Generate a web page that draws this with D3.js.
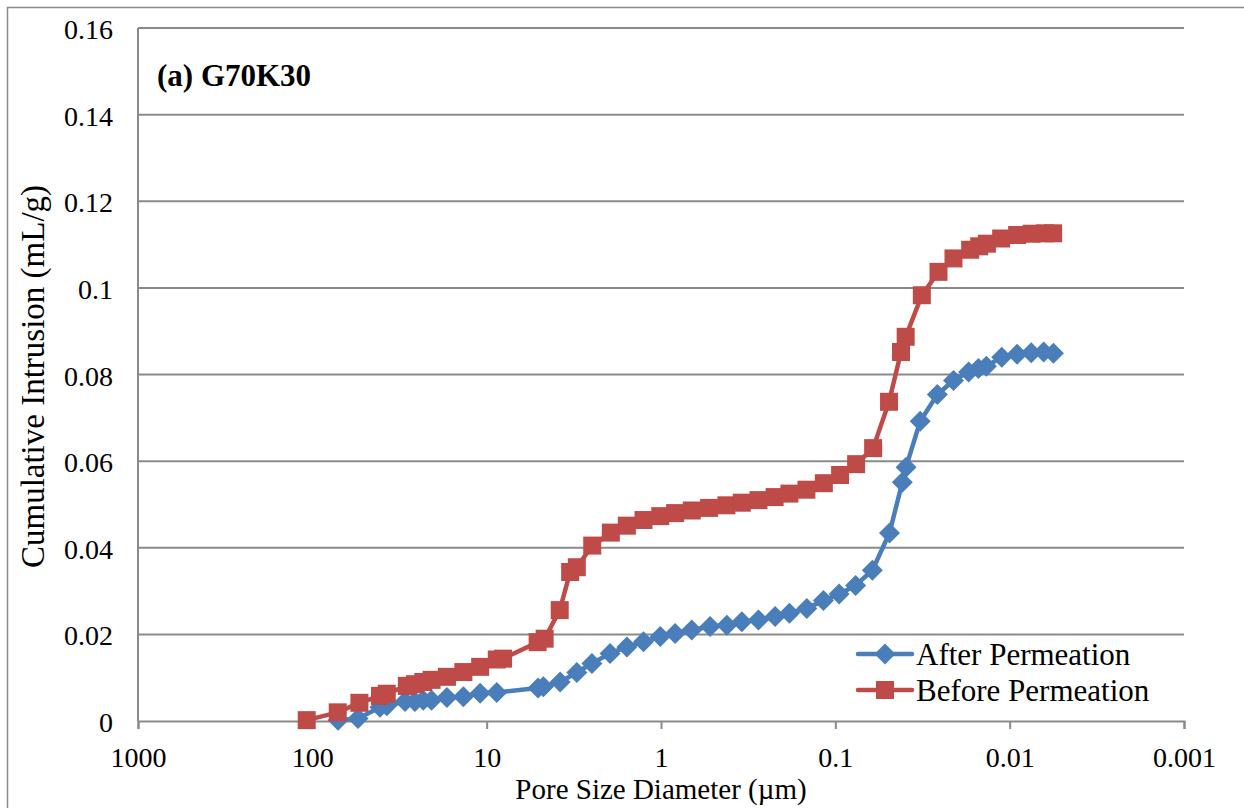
<!DOCTYPE html>
<html>
<head>
<meta charset="utf-8">
<script src="https://cdn.jsdelivr.net/npm/d3@7/dist/d3.min.js"></script>
<style>
  body { margin: 0; background: #fff; }
  svg text { font-family: 'Liberation Serif', 'Times New Roman', serif; }
</style>
</head>
<body>
<div id="vis"></div>
<script>
// pore diameter (um) and cumulative intrusion (mL/g)
var afterDiam = [71.2, 54.7, 40.9, 37.4, 29.4, 25.8, 23.1, 20.7, 16.9, 13.6, 10.9, 8.75,
  5.07, 4.73, 3.79, 3.04, 2.49, 1.96, 1.57, 1.26, 1.01, 0.83, 0.666, 0.523, 0.419,
  0.344, 0.276, 0.2215, 0.1834, 0.1457, 0.117, 0.0951, 0.0765, 0.0613, 0.0489,
  0.0413, 0.0393, 0.0326, 0.026, 0.021, 0.0172, 0.0151, 0.0136, 0.0111, 0.00906,
  0.00752, 0.00638, 0.00561];
var afterVol = [0.0002, 0.0006, 0.0032, 0.0035, 0.0045, 0.0045, 0.0048, 0.0048, 0.0054,
  0.0056, 0.0064, 0.0066, 0.0076, 0.0079, 0.009, 0.0112, 0.0133, 0.0156, 0.0171,
  0.0183, 0.0195, 0.0202, 0.021, 0.0218, 0.0221, 0.0229, 0.0233, 0.0241, 0.0249,
  0.026, 0.0278, 0.0293, 0.0313, 0.0348, 0.0434, 0.0551, 0.0586, 0.0692, 0.0754,
  0.0786, 0.0806, 0.0814, 0.0819, 0.084, 0.0847, 0.085, 0.0852, 0.0849];

var beforeDiam = [107.7, 71.5, 53.7, 40.9, 37.4, 28.7, 25.8, 23.1, 20.7, 16.9, 13.6, 10.9,
  8.75, 8.05, 5.1, 4.65, 3.81, 3.32, 3.04, 2.48, 1.94, 1.57, 1.26, 1.01, 0.83, 0.666,
  0.53, 0.4215, 0.344, 0.276, 0.223, 0.1834, 0.1465, 0.1164, 0.0939, 0.076, 0.0607,
  0.0492, 0.042, 0.0395, 0.0319, 0.0256, 0.021, 0.01685, 0.01496, 0.01351, 0.01119,
  0.00906, 0.00748, 0.00626, 0.00563];
var beforeVol = [0.0002, 0.002, 0.0042, 0.0058, 0.0063, 0.0081, 0.0085, 0.009, 0.0095,
  0.0102, 0.0113, 0.0125, 0.0142, 0.0144, 0.0182, 0.019, 0.0256, 0.0344, 0.0355,
  0.0405, 0.0435, 0.0451, 0.0464, 0.0473, 0.048, 0.0486, 0.0492, 0.0498, 0.0504,
  0.051, 0.0517, 0.0525, 0.0534, 0.0549, 0.0568, 0.0593, 0.063, 0.0737, 0.0852,
  0.0887, 0.0983, 0.1037, 0.1068, 0.1088, 0.1096, 0.1102, 0.1114, 0.1122, 0.1125,
  0.1126, 0.1126];

var xTicks = [1000, 100, 10, 1, 0.1, 0.01, 0.001];
var xTickLabels = ["1000", "100", "10", "1", "0.1", "0.01", "0.001"];
var yTicks = [0, 0.02, 0.04, 0.06, 0.08, 0.1, 0.12, 0.14, 0.16];
var yTickLabels = ["0", "0.02", "0.04", "0.06", "0.08", "0.1", "0.12", "0.14", "0.16"];
var seriesNames = ["After Permeation", "Before Permeation"];

var width = 1244, height = 808;
var margin = { top: 28, left: 138, right: 60, bottom: 87 };
var blue = "#4a7ebb", red = "#be4b48", gridColor = "#8a8a8a";
var serif = "'Liberation Serif', 'Times New Roman', serif";

var svg = d3.select("#vis").append("svg")
  .attr("width", width)
  .attr("height", height);

// outer chart border
svg.append("path")
  .attr("d", "M7.5," + height + "V7.5H" + width)
  .attr("fill", "none")
  .attr("stroke", gridColor)
  .attr("stroke-width", 1.5);

var x = d3.scaleLog()
  .domain([1000, 0.001])
  .range([margin.left, width - margin.right]);

var y = d3.scaleLinear()
  .domain([0, 0.16])
  .range([height - margin.bottom, margin.top]);

// horizontal gridlines
svg.append("g").selectAll("line")
  .data(yTicks.slice(1))
  .enter().append("line")
  .attr("x1", margin.left)
  .attr("x2", width - margin.right)
  .attr("y1", function (d) { return y(d); })
  .attr("y2", function (d) { return y(d); })
  .attr("stroke", gridColor)
  .attr("stroke-width", 2);

// y axis labels
svg.append("g").selectAll("text")
  .data(yTicks)
  .enter().append("text")
  .attr("x", 113)
  .attr("y", function (d) { return y(d) + 11; })
  .attr("text-anchor", "end")
  .attr("font-family", serif)
  .attr("font-size", 28)
  .text(function (d, i) { return yTickLabels[i]; });

// y axis line
svg.append("line")
  .attr("x1", margin.left).attr("x2", margin.left)
  .attr("y1", y(0.16)).attr("y2", y(0))
  .attr("stroke", gridColor)
  .attr("stroke-width", 2);

// x axis
var xAxis = d3.axisBottom(x)
  .tickValues(xTicks)
  .tickSize(8)
  .tickFormat(function (d, i) { return xTickLabels[i]; });

var gx = svg.append("g")
  .attr("transform", "translate(0," + y(0) + ")")
  .call(xAxis)
  .attr("font-family", serif)
  .attr("font-size", 28);
gx.select(".domain").attr("stroke", gridColor).attr("stroke-width", 2);
gx.selectAll(".tick line").attr("stroke", gridColor).attr("stroke-width", 2);
gx.selectAll(".tick text")
  .attr("y", 46)
  .attr("dy", null)
  .attr("fill", "#000");

// axis titles
svg.append("text")
  .attr("x", 661)
  .attr("y", 799)
  .attr("text-anchor", "middle")
  .attr("font-family", serif)
  .attr("font-size", 29)
  .text("Pore Size Diameter (\u00b5m)");

svg.append("text")
  .attr("transform", "translate(44," + ((y(0) + y(0.16)) / 2 + 2) + ") rotate(-90)")
  .attr("text-anchor", "middle")
  .attr("font-family", serif)
  .attr("font-size", 33)
  .text("Cumulative Intrusion (mL/g)");

// panel title
svg.append("text")
  .attr("x", 157)
  .attr("y", 86)
  .attr("font-family", serif)
  .attr("font-size", 31)
  .attr("font-weight", "bold")
  .text("(a) G70K30");

var diamond = function (r) {
  return "M0," + (-r) + "L" + r + ",0L0," + r + "L" + (-r) + ",0Z";
};
var square = function (r) {
  return "M" + (-r) + "," + (-r) + "H" + r + "V" + r + "H" + (-r) + "Z";
};

var afterData = afterDiam.map(function (d, i) { return { d: d, v: afterVol[i] }; });
var beforeData = beforeDiam.map(function (d, i) { return { d: d, v: beforeVol[i] }; });

var line = d3.line()
  .x(function (p) { return x(p.d); })
  .y(function (p) { return y(p.v); });

function drawSeries(data, color, shape) {
  var g = svg.append("g");
  g.append("path")
    .datum(data)
    .attr("d", line)
    .attr("fill", "none")
    .attr("stroke", color)
    .attr("stroke-width", 4.5)
    .attr("stroke-linejoin", "round");
  g.selectAll(".mark")
    .data(data)
    .enter().append("path")
    .attr("class", "mark")
    .attr("transform", function (p) { return "translate(" + x(p.d) + "," + y(p.v) + ")"; })
    .attr("d", shape)
    .attr("fill", color);
}

drawSeries(afterData, blue, diamond(10.5));
drawSeries(beforeData, red, square(9));

// legend
var legend = svg.append("g");
var legendRows = [
  { name: seriesNames[0], color: blue, shape: diamond(10.5), y: 654 },
  { name: seriesNames[1], color: red, shape: square(9), y: 690 }
];
legendRows.forEach(function (r) {
  legend.append("line")
    .attr("x1", 858).attr("x2", 912)
    .attr("y1", r.y).attr("y2", r.y)
    .attr("stroke", r.color)
    .attr("stroke-width", 4.5)
    .attr("stroke-linecap", "round");
  legend.append("path")
    .attr("transform", "translate(885," + r.y + ")")
    .attr("d", r.shape)
    .attr("fill", r.color);
  legend.append("text")
    .attr("x", 916)
    .attr("y", r.y + 11)
    .attr("font-family", serif)
    .attr("font-size", 31)
    .text(r.name);
});
</script>
</body>
</html>
